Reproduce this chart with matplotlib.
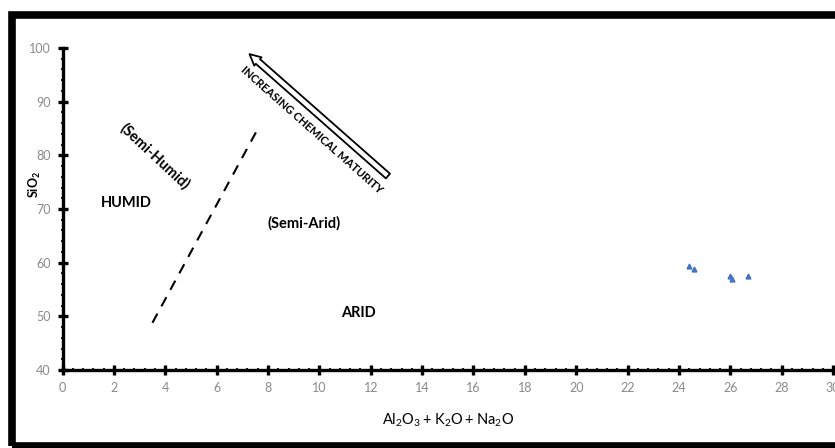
import matplotlib.pyplot as plt
from matplotlib.patches import Rectangle
from matplotlib.ticker import MultipleLocator

# sample points
alk = [24.4, 24.6, 26.0, 26.05, 26.7]   # Al2O3 + K2O + Na2O
sio2 = [59.3, 58.8, 57.6, 57.0, 57.5]   # SiO2

# dashed divider line
div_x = [3.5, 7.6]
div_y = [48.8, 84.9]

# maturity arrow (tail -> head)
arrow_tail = (12.75, 75.8)
arrow_head = (7.2, 99.2)

font = ['Lato', 'DejaVu Sans']
plt.rcParams['font.family'] = font
plt.rcParams['mathtext.fontset'] = 'custom'
plt.rcParams['mathtext.rm'] = 'Lato'
plt.rcParams['mathtext.bf'] = 'Lato:bold'

fig = plt.figure(figsize=(8.35, 4.48), dpi=100)
ax = fig.add_axes([0.0749, 0.1741, 0.9228, 0.71875])

ax.plot(alk, sio2, linestyle='none', marker='^', ms=3.5, color='#4472C4')
ax.plot(div_x, div_y, color='black', lw=1.5, dashes=(5, 4))

ax.annotate('', xy=arrow_head, xytext=arrow_tail,
            arrowprops=dict(arrowstyle='simple,head_width=0.8,head_length=0.8,tail_width=0.45',
                            fc='white', ec='black', lw=1.3))
ax.text(9.7, 84.7, 'INCREASING CHEMICAL MATURITY', rotation=-41.6, fontsize=8,
        ha='center', va='center', weight='bold', rotation_mode='anchor')

ax.text(2.5, 71.1, 'HUMID', fontsize=10.5, ha='center', va='center', weight='bold')
ax.text(3.6, 79.8, '(Semi-Humid)', fontsize=10.5, rotation=-43, ha='center', va='center',
        weight='bold', rotation_mode='anchor')
ax.text(9.4, 67.4, '(Semi-Arid)', fontsize=10.5, ha='center', va='center', weight='bold')
ax.text(11.5, 50.6, 'ARID', fontsize=10.5, ha='center', va='center', weight='bold')

ax.set_xlim(0, 30)
ax.set_ylim(40, 100)
ax.xaxis.set_major_locator(MultipleLocator(2))
ax.xaxis.set_minor_locator(MultipleLocator(0.4))
ax.yaxis.set_major_locator(MultipleLocator(10))
ax.yaxis.set_minor_locator(MultipleLocator(2))

for s in ['top', 'right']:
    ax.spines[s].set_visible(False)
for s in ['left', 'bottom']:
    ax.spines[s].set_linewidth(2.4)
ax.tick_params(which='major', direction='inout', length=7, width=2.4, color='black',
               labelcolor='#8a8a8a', labelsize=9, pad=5)
ax.tick_params(which='minor', direction='inout', length=3, width=1.3, color='black')

fig.text(35 / 835, 1 - 185 / 448, r'$\mathbf{SiO_2}$', rotation=90, fontsize=9,
         ha='center', va='center')
fig.text(448 / 835, 1 - 420 / 448, r'$\mathregular{Al_2O_3 + K_2O + Na_2O}$', fontsize=10.5,
         ha='center', va='center')

# black border around the figure
fig.patches.append(Rectangle((12 / 835, 2 / 448), 2, 1 - 15 / 448 - 2 / 448,
                             transform=fig.transFigure, fill=False, ec='black', lw=5.5))

fig.savefig('out.png', dpi=100)
